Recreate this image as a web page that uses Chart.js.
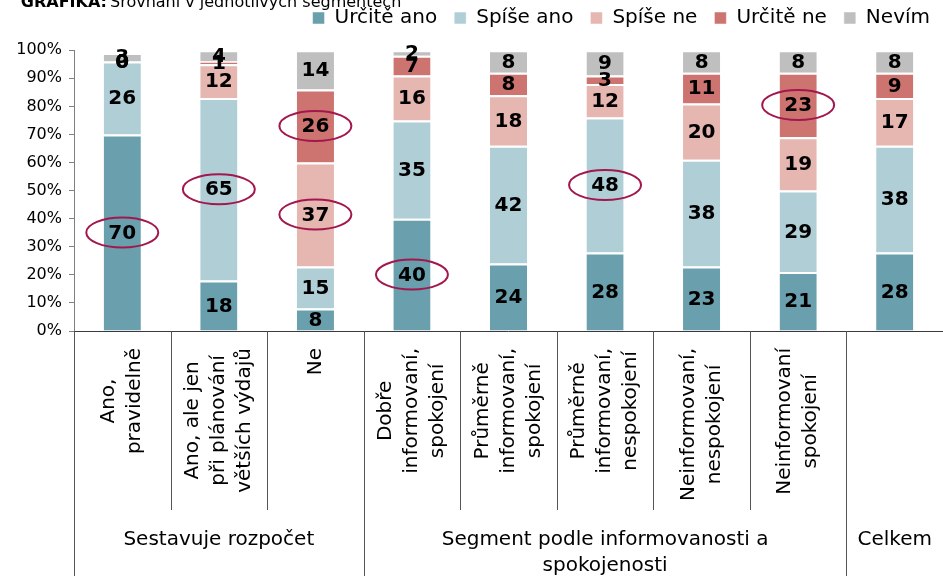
<!DOCTYPE html>
<html lang="cs">
<head>
<meta charset="UTF-8">
<title>Sestavování rozpočtu</title>
<script src="https://cdn.jsdelivr.net/npm/chart.js"></script>
<style>
  html, body { margin: 0; padding: 0; background: #fff; }
  canvas { display: block; }
</style>
</head>
<body>
<canvas id="graficoCanvas" width="943" height="576"></canvas>

<script>
    // popisky kategorii (radky se lamou rucne jako v originalu)
    const kategorie = [
        ['Ano,', 'pravidelně'],
        ['Ano, ale jen', 'při plánování', 'větších výdajů'],
        ['Ne'],
        ['Dobře', 'informovaní,', 'spokojení'],
        ['Průměrně', 'informovaní,', 'spokojení'],
        ['Průměrně', 'informovaní,', 'nespokojení'],
        ['Neinformovaní,', 'nespokojení'],
        ['Neinformovaní', 'spokojení'],
        ['']
    ];

    const skupiny = [['Sestavuje rozpočet'], ['Segment podle informovanosti a', 'spokojenosti'], ['Celkem']];
    const skupinyOd = [0, 3, 8];
    const skupinyDo = [2, 7, 8];

    const serie = ['Určitě ano', 'Spíše ano', 'Spíše ne', 'Určitě ne', 'Nevím'];
    const urciteAno = [70, 18, 8, 40, 24, 28, 23, 21, 28];
    const spiseAno = [26, 65, 15, 35, 42, 48, 38, 29, 38];
    const spiseNe = [0, 12, 37, 16, 18, 12, 20, 19, 17];
    const urciteNe = [0, 1, 26, 7, 8, 3, 11, 23, 9];
    const nevim = [3, 4, 14, 2, 8, 9, 8, 8, 8];

    const osaYMax = 100;
    const osaYKrok = 10;

    // [kategorie, serie] ktere jsou v originalu zakrouzkovane
    const zvyraznene = [[0, 0], [1, 1], [2, 2], [2, 3], [3, 0], [5, 1], [7, 3]];

    const cores = ['#6A9FAD', '#B0CED6', '#E6B6B1', '#CE7470', '#BFBFBF'];
    const hodnoty = [urciteAno, spiseAno, spiseNe, urciteNe, nevim];

    const popiskyPlugin = {
        id: 'popisky',
        afterDatasetsDraw(chart) {
            const ctx = chart.ctx;
            ctx.save();
            ctx.font = 'bold 20px "DejaVu Sans"';
            ctx.fillStyle = '#000';
            ctx.textAlign = 'center';
            ctx.textBaseline = 'middle';
            chart.data.datasets.forEach((ds, i) => {
                chart.getDatasetMeta(i).data.forEach((bar, j) => {
                    const p = bar.getCenterPoint();
                    ctx.fillText(String(ds.data[j]), p.x, p.y + 1);
                });
            });

            // elipsy kolem vybranych hodnot
            ctx.strokeStyle = '#A3174F';
            ctx.lineWidth = 2;
            zvyraznene.forEach(([j, i]) => {
                const p = chart.getDatasetMeta(i).data[j].getCenterPoint();
                ctx.beginPath();
                ctx.ellipse(p.x, p.y, 36, 15, 0, 0, Math.PI * 2);
                ctx.stroke();
            });
            ctx.restore();
        }
    };

    const osaXPlugin = {
        id: 'osaX',
        afterDraw(chart) {
            const ctx = chart.ctx;
            const area = chart.chartArea;
            const x = chart.scales.x;
            const dolniKraj = chart.height;
            const kratkaCara = 510;

            ctx.save();

            // titulek nahore (orizly)
            ctx.fillStyle = '#000';
            ctx.textBaseline = 'alphabetic';
            ctx.textAlign = 'right';
            ctx.font = 'bold 16px "DejaVu Sans"';
            ctx.fillText('GRAFIKA:', 107, 7);
            ctx.textAlign = 'left';
            ctx.font = '16px "DejaVu Sans"';
            ctx.fillText('Srovnání v jednotlivých segmentech', 110, 7);

            // osa x
            ctx.strokeStyle = '#3a3a3a';
            ctx.lineWidth = 1;
            ctx.beginPath();
            ctx.moveTo(area.left, Math.round(area.bottom) + 0.5);
            ctx.lineTo(area.right, Math.round(area.bottom) + 0.5);
            ctx.stroke();

            // svisle oddelovace
            const n = kategorie.length;
            const sirka = x.getPixelForValue(1) - x.getPixelForValue(0);
            ctx.strokeStyle = '#555';
            for (let k = 0; k <= n; k++) {
                const px = Math.round(x.getPixelForValue(k) - sirka / 2) + 0.5;
                const hranice = skupinyOd.includes(k) || k === n;
                ctx.beginPath();
                ctx.moveTo(px, area.bottom);
                ctx.lineTo(px, hranice ? dolniKraj : kratkaCara);
                ctx.stroke();
            }

            // otocene popisky kategorii
            ctx.font = '20px "DejaVu Sans"';
            ctx.textAlign = 'center';
            ctx.textBaseline = 'middle';
            const radek = 26;
            kategorie.forEach((radky, k) => {
                const maxW = Math.max(...radky.map(r => ctx.measureText(r).width));
                const cx = x.getPixelForValue(k);
                const cy = area.bottom + 17 + maxW / 2;
                ctx.save();
                ctx.translate(cx, cy);
                ctx.rotate(-Math.PI / 2);
                radky.forEach((r, i) => {
                    ctx.fillText(r, 0, (i - (radky.length - 1) / 2) * radek);
                });
                ctx.restore();
            });

            // popisky skupin
            skupiny.forEach((radky, g) => {
                const cx = (x.getPixelForValue(skupinyOd[g]) + x.getPixelForValue(skupinyDo[g])) / 2;
                radky.forEach((r, i) => {
                    ctx.fillText(r, cx, 540 + i * radek);
                });
            });

            ctx.restore();
        }
    };

    const config = {
        type: 'bar',
        data: {
            labels: kategorie.map(k => k.join(' ')),
            datasets: serie.map((s, i) => ({
                label: s,
                data: hodnoty[i],
                backgroundColor: cores[i],
                borderColor: '#ffffff',
                borderWidth: { top: 2, bottom: 0, left: 0, right: 0 },
                borderSkipped: false,
                barPercentage: 0.385,
                categoryPercentage: 1
            }))
        },
        options: {
            responsive: false,
            animation: false,
            layout: {
                padding: { top: -9, left: 0, right: -4, bottom: 245 }
            },
            plugins: {
                legend: {
                    position: 'top',
                    align: 'end',
                    weight: 3000,
                    labels: {
                        font: { family: 'DejaVu Sans', size: 20 },
                        color: '#000',
                        boxWidth: 12,
                        boxHeight: 12,
                        padding: 17
                    }
                },
                subtitle: {
                    display: true,
                    text: ' ',
                    weight: 500,
                    font: { size: 1 },
                    padding: { top: 11, bottom: 0 }
                },
                tooltip: { enabled: false }
            },
            scales: {
                x: {
                    stacked: true,
                    display: false
                },
                y: {
                    stacked: true,
                    min: 0,
                    max: osaYMax,
                    afterFit(scale) { scale.width = 74; },
                    ticks: {
                        stepSize: osaYKrok,
                        padding: 7,
                        color: '#000',
                        font: { family: 'DejaVu Sans', size: 16 },
                        callback: v => v + '%'
                    },
                    grid: {
                        drawOnChartArea: false,
                        tickLength: 5,
                        color: '#808080'
                    },
                    border: { color: '#808080' }
                }
            }
        },
        plugins: [popiskyPlugin, osaXPlugin]
    };

    const ctx = document.getElementById('graficoCanvas').getContext('2d');
    const grafico = new Chart(ctx, config);
</script>
</body>
</html>
